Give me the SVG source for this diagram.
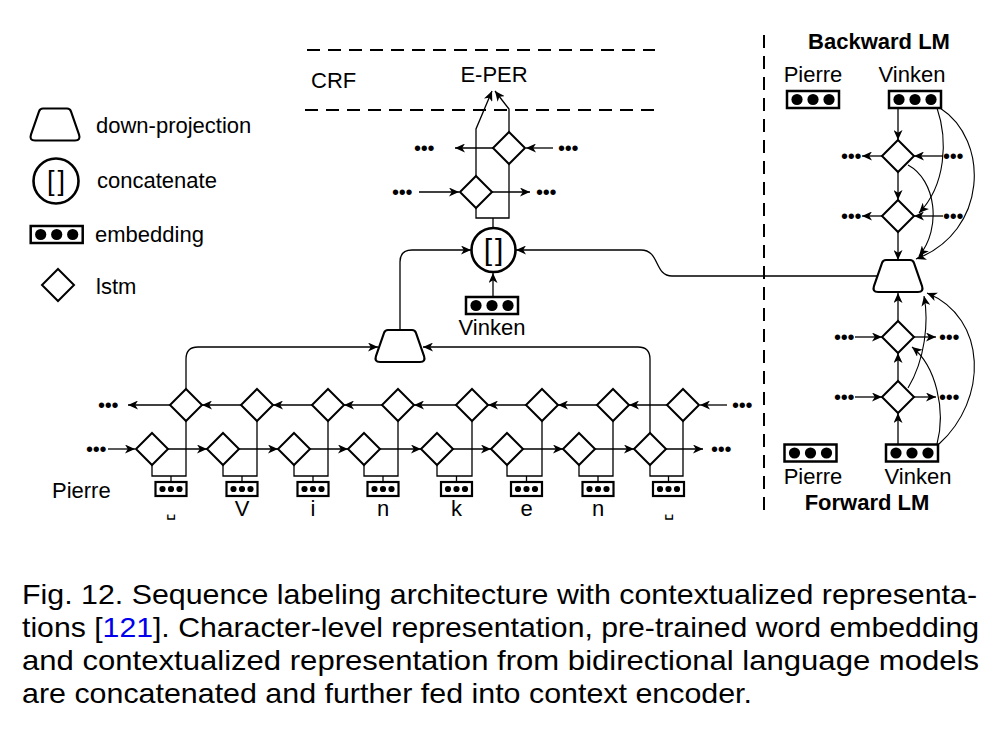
<svg xmlns="http://www.w3.org/2000/svg" xmlns:xlink="http://www.w3.org/1999/xlink" width="990" height="730" viewBox="0 0 990 730">
<style>
.ln{stroke:#000;stroke-width:1.3;fill:none}
.th{stroke:#000;stroke-width:1.1;fill:none}
.ar{marker-end:url(#ah)}
.dm{fill:#fff;stroke:#000;stroke-width:2}
.tp{fill:#fff;stroke:#000;stroke-width:2.2}
.ci{fill:#fff;stroke:#000;stroke-width:2.6}
.t{font-family:"Liberation Sans",Arial,Helvetica,sans-serif;font-size:22px;fill:#000}
.b{font-weight:bold}
.br{letter-spacing:3px}
.dots{font-family:"Liberation Sans",Arial,sans-serif;font-size:20px;letter-spacing:-0.3px;fill:#000}
.cap{font-family:"Liberation Sans",Arial,Helvetica,sans-serif;font-size:28px;fill:#000}
.dash{stroke:#000;stroke-width:2;stroke-dasharray:13 8;fill:none}
</style>
<defs>
<marker id="ah" viewBox="0 0 10 9" refX="10" refY="4.5" markerWidth="10" markerHeight="9" markerUnits="userSpaceOnUse" orient="auto"><path d="M0,0 L10,4.5 L0,9 L2.8,4.5 z" fill="#000"/></marker>
<path id="dia" d="M0,-16 L16,0 L0,16 L-16,0 Z" class="dm"/>
<path id="trap" class="tp" d="M-12,-16 L12,-16 Q15,-16 16,-13 L24,10 Q26,16 20,16 L-20,16 Q-26,16 -24,10 L-16,-13 Q-15,-16 -12,-16 Z"/>
<g id="embB"><rect x="-26" y="-8.5" width="52" height="17" fill="#fff" stroke="#000" stroke-width="2.5"/><circle cx="-16" cy="0" r="5.6"/><circle cx="0" cy="0" r="5.6"/><circle cx="16" cy="0" r="5.6"/></g>
<g id="embS"><rect x="-15.5" y="-7" width="31" height="14" fill="#fff" stroke="#000" stroke-width="2.2"/><circle cx="-8.5" cy="0" r="3.1"/><circle cx="0" cy="0" r="3.1"/><circle cx="8.5" cy="0" r="3.1"/></g>
</defs>

<!-- dashed separators -->
<g id="crf-layer">
<line class="dash" x1="307" y1="50" x2="655" y2="50"/>
<line class="dash" x1="305" y1="110" x2="655" y2="110"/>
<text class="t" x="311" y="88">CRF</text>
<text class="t" x="494" y="82" text-anchor="middle">E-PER</text>
</g>
<line id="divider" class="dash" x1="764" y1="35" x2="764" y2="515" stroke-width="1.6"/>

<!-- legend -->
<g id="legend">
<use href="#trap" x="55" y="124.5"/>
<text class="t" x="96" y="133">down-projection</text>
<circle cx="56" cy="181" r="22.5" class="ci"/>
<text class="t br" x="57.5" y="190" text-anchor="middle" style="font-size:27px">[]</text>
<text class="t" x="97" y="188">concatenate</text>
<use href="#embB" x="56.7" y="234.5"/>
<text class="t" x="95" y="242">embedding</text>
<use href="#dia" x="58" y="285"/>
<text class="t" x="96" y="294">lstm</text>
</g>

<!-- connectors -->
<g id="connectors">
<path class="ln" d="M476,208 L476,218 L509,218 L509,164"/>
<path class="ln" d="M493,218 L493,228"/>
<path class="ln ar" d="M476,176 L476,129 L492,91"/>
<path class="ln ar" d="M509,132 L509,109 L495,91"/>
<path class="ln ar" d="M493,148 L455,148"/>
<path class="ln ar" d="M553,148 L526,148"/>
<path class="ln ar" d="M419,192 L459,192"/>
<path class="ln ar" d="M492,192 L530,192"/>
<path class="ln ar" d="M400,330 L400,262 Q400,250 412,250 L471,250"/>
<path class="ln ar" d="M877,276 L672,276 C654,276 660,250 641,250 L516,250"/>
<path class="ln ar" d="M493,297 L493,273"/>
<path class="ln ar" d="M186,389 L186,359 Q186,347 198,347 L378,347"/>
<path class="ln ar" d="M650,433 L650,359 Q650,347 638,347 L423,347"/>
<path class="ln ar" d="M108,449 L135,449"/>
<path class="ln ar" d="M168,449 L207,449"/>
<path class="ln ar" d="M239,449 L278,449"/>
<path class="ln ar" d="M310,449 L348,449"/>
<path class="ln ar" d="M380,449 L421,449"/>
<path class="ln ar" d="M453,449 L491,449"/>
<path class="ln ar" d="M523,449 L563,449"/>
<path class="ln ar" d="M595,449 L634,449"/>
<path class="ln ar" d="M666,449 L703,449"/>
<path class="ln ar" d="M170,405 L128,405"/>
<path class="ln ar" d="M241,405 L202,405"/>
<path class="ln ar" d="M312,405 L273,405"/>
<path class="ln ar" d="M382,405 L344,405"/>
<path class="ln ar" d="M456,405 L414,405"/>
<path class="ln ar" d="M526,405 L488,405"/>
<path class="ln ar" d="M597,405 L558,405"/>
<path class="ln ar" d="M667,405 L629,405"/>
<path class="ln ar" d="M727,405 L700,405"/>
<path class="ln" d="M152,465 L152,476 L186,476 L186,421 M171,476 L171,482"/>
<path class="ln" d="M223,465 L223,476 L257,476 L257,421 M242,476 L242,482"/>
<path class="ln" d="M294,465 L294,476 L328,476 L328,421 M313,476 L313,482"/>
<path class="ln" d="M364,465 L364,476 L398,476 L398,421 M383,476 L383,482"/>
<path class="ln" d="M437,465 L437,476 L472,476 L472,421 M456.5,476 L456.5,482"/>
<path class="ln" d="M507,465 L507,476 L542,476 L542,421 M526.5,476 L526.5,482"/>
<path class="ln" d="M579,465 L579,476 L613,476 L613,421 M598,476 L598,482"/>
<path class="ln" d="M650,465 L650,476 L683,476 L683,421 M668.5,476 L668.5,482"/>
<path class="ln ar" d="M898,108 L898,140"/>
<path class="ln ar" d="M898,172 L898,200"/>
<path class="ln ar" d="M898,232 L898,260"/>
<path class="ln ar" d="M882,156 L862,156"/>
<path class="ln ar" d="M943,156 L914,156"/>
<path class="ln ar" d="M882,216 L862,216"/>
<path class="ln ar" d="M943,216 L914,216"/>
<path class="th ar" d="M937,108 C948,140 946,185 919,213"/>
<path class="th ar" d="M940,108 C990,140 988,232 916,259"/>
<path class="th ar" d="M908,165 C936,180 942,228 919,256"/>
<path class="ln ar" d="M898,444 L898,413"/>
<path class="ln ar" d="M898,381 L898,353"/>
<path class="ln ar" d="M898,321 L898,293"/>
<path class="ln ar" d="M855,337 L882,337"/>
<path class="ln ar" d="M914,337 L936,337"/>
<path class="ln ar" d="M855,397 L882,397"/>
<path class="ln ar" d="M914,397 L936,397"/>
<path class="th ar" d="M937,444 C946,410 936,366 912,347"/>
<path class="th ar" d="M939,444 C988,400 988,318 927,293"/>
<path class="th ar" d="M908,388 C925,360 929,322 924,296"/>
</g>

<g id="enc-bwd"><use href="#dia" x="509" y="148"/></g>
<g id="enc-fwd"><use href="#dia" x="476" y="192"/></g>
<g id="enc-dots">
<text class="dots" x="414" y="155">•••</text>
<text class="dots" x="558" y="155">•••</text>
<text class="dots" x="392" y="199">•••</text>
<text class="dots" x="536" y="199">•••</text>
</g>
<g id="concat"><circle cx="493.5" cy="250" r="22" class="ci"/><text class="t br" x="495" y="260" text-anchor="middle" style="font-size:30px">[]</text></g>
<g id="word-emb"><use href="#embB" x="492" y="305.5"/><text class="t" x="492" y="335" text-anchor="middle">Vinken</text></g>
<g id="char-proj"><use href="#trap" x="400" y="346"/></g>

<g id="char-bwd">
<use href="#dia" x="186" y="405"/><use href="#dia" x="257" y="405"/><use href="#dia" x="328" y="405"/><use href="#dia" x="398" y="405"/>
<use href="#dia" x="472" y="405"/><use href="#dia" x="542" y="405"/><use href="#dia" x="613" y="405"/><use href="#dia" x="683" y="405"/>
</g>
<g id="char-fwd">
<use href="#dia" x="152" y="449"/><use href="#dia" x="223" y="449"/><use href="#dia" x="294" y="449"/><use href="#dia" x="364" y="449"/>
<use href="#dia" x="437" y="449"/><use href="#dia" x="507" y="449"/><use href="#dia" x="579" y="449"/><use href="#dia" x="650" y="449"/>
</g>
<g id="char-dots">
<text class="dots" x="98" y="412">•••</text>
<text class="dots" x="732" y="412">•••</text>
<text class="dots" x="86" y="456">•••</text>
<text class="dots" x="711" y="456">•••</text>
</g>
<g id="char-emb">
<use href="#embS" x="171" y="489"/><use href="#embS" x="242" y="489"/><use href="#embS" x="313" y="489"/><use href="#embS" x="383" y="489"/>
<use href="#embS" x="456.5" y="489"/><use href="#embS" x="526.5" y="489"/><use href="#embS" x="598" y="489"/><use href="#embS" x="668.5" y="489"/>
</g>
<g id="char-labels" class="t" text-anchor="middle">
<text x="171" y="516" style="font-size:16px">␣</text><text x="242" y="516">V</text><text x="313" y="516">i</text><text x="383" y="516">n</text>
<text x="456.5" y="516">k</text><text x="526.5" y="516">e</text><text x="598" y="516">n</text><text x="668.5" y="516" style="font-size:16px">␣</text>
</g>
<text class="t" x="52" y="498">Pierre</text>

<g id="backward-lm">
<text class="t b" x="879" y="49" text-anchor="middle">Backward LM</text>
<text class="t" x="813" y="82" text-anchor="middle">Pierre</text>
<text class="t" x="912" y="82" text-anchor="middle">Vinken</text>
<use href="#embB" x="813" y="99.5"/>
<use href="#embB" x="915" y="99.5"/>
<use href="#dia" x="898" y="156"/>
<use href="#dia" x="898" y="216"/>
<text class="dots" x="841" y="163">•••</text>
<text class="dots" x="943" y="163">•••</text>
<text class="dots" x="841" y="223">•••</text>
<text class="dots" x="943" y="223">•••</text>
</g>
<g id="lm-proj"><use href="#trap" x="898" y="276"/></g>

<g id="forward-lm">
<use href="#dia" x="898" y="337"/>
<use href="#dia" x="898" y="397"/>
<text class="dots" x="834" y="344">•••</text>
<text class="dots" x="939" y="344">•••</text>
<text class="dots" x="834" y="404">•••</text>
<text class="dots" x="939" y="404">•••</text>
<use href="#embB" x="810.5" y="453"/>
<use href="#embB" x="912" y="453"/>
<text class="t" x="813" y="484" text-anchor="middle">Pierre</text>
<text class="t" x="918" y="484" text-anchor="middle">Vinken</text>
<text class="t b" x="867" y="510" text-anchor="middle">Forward LM</text>
</g>

<g id="caption" class="cap">
<text x="22" y="604" textLength="955" lengthAdjust="spacingAndGlyphs">Fig. 12. Sequence labeling architecture with contextualized representa-</text>
<text x="22" y="637" textLength="957" lengthAdjust="spacingAndGlyphs">tions [<tspan fill="#0000ee">121</tspan>]. Character-level representation, pre-trained word embedding</text>
<text x="22" y="670" textLength="957" lengthAdjust="spacingAndGlyphs">and contextualized representation from bidirectional language models</text>
<text x="22" y="703" textLength="730" lengthAdjust="spacingAndGlyphs">are concatenated and further fed into context encoder.</text>
</g>
</svg>
